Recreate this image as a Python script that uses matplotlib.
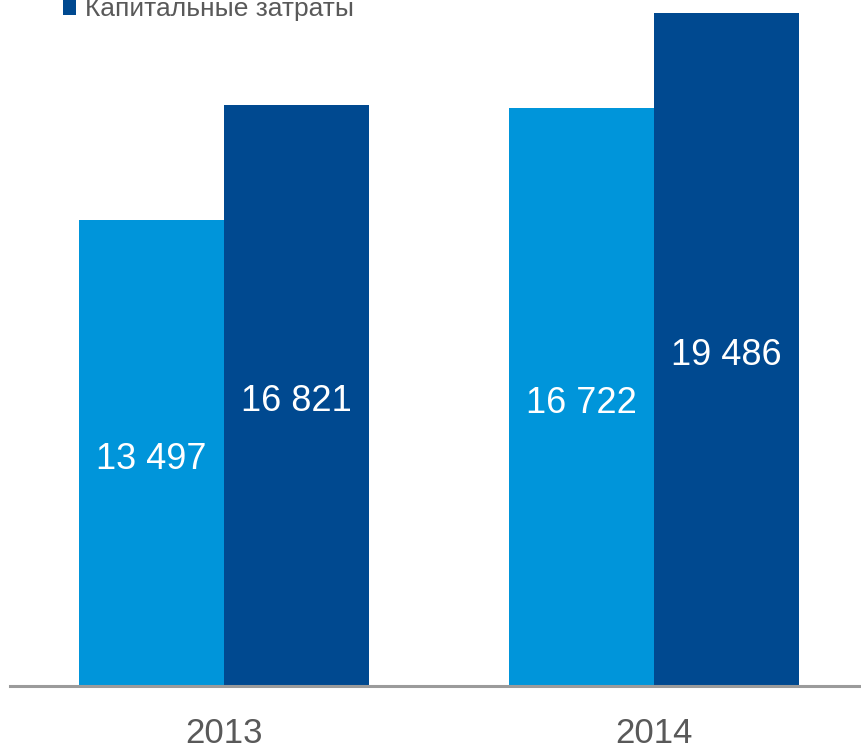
import matplotlib
matplotlib.use("Agg")
import matplotlib.pyplot as plt
import numpy as np

years = ["2013", "2014"]
series_names = ["Операционные затраты", "Капитальные затраты"]
series_a = [13497, 16722]
series_b = [16821, 19486]
labels_a = ["13 497", "16 722"]
labels_b = ["16 821", "19 486"]

c_light = "#0095DA"
c_dark = "#004990"
gray_text = "#595959"

plt.rcParams['font.family'] = ['Liberation Sans', 'DejaVu Sans']

fig = plt.figure(figsize=(8.62, 7.48), dpi=100)
ax = fig.add_axes([10/862, 62/748, 852/862, 686/748])

x = np.arange(len(years))
w = 145/430
bars_a = ax.bar(x - w/2, series_a, width=w, color=c_light, label=series_names[0])
bars_b = ax.bar(x + w/2, series_b, width=w, color=c_dark, label=series_names[1])

for bars, labs in ((bars_a, labels_a), (bars_b, labels_b)):
    for b, lab in zip(bars, labs):
        ax.annotate(lab, (b.get_x() + b.get_width()/2, b.get_height()/2),
                    xytext=(0, -11.5), textcoords='offset points',
                    ha='center', va='baseline', color='white', fontsize=26)

ax.set_xlim((10-224)/430, (862-224)/430)
ax.set_ylim(0, 686/0.03454)
for s in ['top', 'right', 'left']:
    ax.spines[s].set_visible(False)
ax.spines['bottom'].set_color('#9B9B9B')
ax.spines['bottom'].set_linewidth(2.2)
ax.set_yticks([])
ax.set_xticks(x)
ax.set_xticklabels(years, fontsize=25, color=gray_text)
ax.tick_params(axis='x', length=0, pad=22)

leg = fig.legend(handles=[bars_b], labels=[series_names[1]], loc='upper left',
                 bbox_to_anchor=(63/862, 1 + 3/748), frameon=False, fontsize=19,
                 handlelength=0.5, handleheight=0.55, handletextpad=0.32,
                 borderpad=0, borderaxespad=0)
for t in leg.get_texts():
    t.set_color(gray_text)

fig.savefig("out.png", dpi=100)
